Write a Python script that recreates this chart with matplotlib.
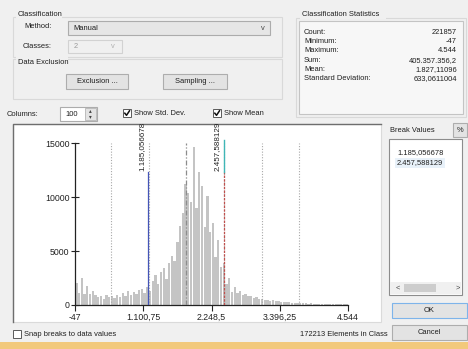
import numpy as np
import matplotlib
matplotlib.use("Agg")
import matplotlib.pyplot as plt
from matplotlib.patches import Rectangle

plt.rcParams['font.family'] = ['Liberation Sans', 'DejaVu Sans']

stat_labels = ["Count:", "Minimum:", "Maximum:", "Sum:", "Mean:", "Standard Deviation:"]
stat_values = ["221857", "-47", "4.544", "405.357.356,2", "1.827,11096", "633,0611004"]
data_min = -47
data_max = 4544
mean_val = 1827.11096
std_val = 633.0611004
breaks = [1185.056678, 2457.588129]
break_labels = ["1.185,056678", "2.457,588129"]
x_ticks = [-47, 1100.75, 2248.5, 3396.25, 4544]
x_tick_labels = ["-47", "1.100,75", "2.248,5", "3.396,25", "4.544"]
y_ticks = [0, 5000, 10000, 15000]
n_columns = 100
counts = [2000, 1100, 2500, 1000, 1800, 1000, 1300, 900, 700, 800,
          600, 900, 700, 800, 650, 900, 700, 1100, 800, 1300,
          900, 1200, 1000, 1400, 1500, 1100, 1700, 1300, 2200, 2800,
          1900, 3100, 3400, 2400, 3900, 4500, 4100, 5800, 7300, 8500,
          11200, 10400, 9500, 14600, 9000, 12300, 11000, 7200, 10100, 6800,
          7600, 4400, 6000, 3500, 3900, 1900, 2500, 1200, 1700, 1100,
          1300, 900, 1000, 800, 850, 650, 700, 550, 600, 450,
          500, 400, 420, 330, 350, 280, 300, 250, 260, 200,
          220, 180, 190, 150, 160, 130, 140, 110, 120, 100,
          100, 90, 90, 80, 80, 70, 70, 60, 60, 50]

W, H = 468, 349
fig = plt.figure(figsize=(W / 100, H / 100), dpi=100)
fig.patch.set_facecolor('#f0f0f0')

bg = fig.add_axes([0, 0, 1, 1])
bg.set_xlim(0, W)
bg.set_ylim(H, 0)
bg.axis('off')

fs = 5.4
txt = '#1e1e1e'


def box(x0, y0, x1, y1, fc='none', ec='#c8c8c8', lw=0.8, z=1):
    bg.add_patch(Rectangle((x0, y0), x1 - x0, y1 - y0, fc=fc, ec=ec, lw=lw, zorder=z))


def button(x0, y0, x1, y1, label, ec='#adadad'):
    box(x0, y0, x1, y1, fc='#e3e3e3', ec=ec)
    bg.text((x0 + x1) / 2, (y0 + y1) / 2, label, fontsize=fs, color=txt,
            ha='center', va='center', zorder=3)


def checkbox(x, y, checked):
    box(x, y, x + 8, y + 8, fc='white', ec='#5a5a5a', lw=0.7)
    if checked:
        bg.plot([x + 1.8, x + 3.5, x + 6.5], [y + 4.2, y + 6.3, y + 1.8],
                color='#111111', lw=1.1, zorder=3)


# Classification group
box(13, 17, 282, 57, ec='#d9d9d9')
bg.add_patch(Rectangle((16, 12), 46, 8, fc='#f0f0f0', ec='none', zorder=2))
bg.text(18, 15, "Classification", fontsize=fs, color=txt, va='center', zorder=3)
bg.text(24, 27, "Method:", fontsize=fs, color=txt, va='center')
box(68, 21, 270, 35, fc='#e6e6e6', ec='#acacac')
bg.text(73, 28, "Manual", fontsize=fs, color=txt, va='center')
bg.text(263, 28, "v", fontsize=fs, color='#444444', va='center', ha='center')
bg.text(23, 47, "Classes:", fontsize=fs, color=txt, va='center')
box(68, 40, 122, 53, fc='#f0f0f0', ec='#d2d2d2')
bg.text(74, 46.5, "2", fontsize=fs, color='#9a9a9a', va='center')
bg.text(113, 46.5, "v", fontsize=fs, color='#b0b0b0', va='center', ha='center')

# Data exclusion group
box(13, 59, 282, 99, ec='#d9d9d9')
bg.add_patch(Rectangle((16, 55), 52, 8, fc='#f0f0f0', ec='none', zorder=2))
bg.text(18, 63, "Data Exclusion", fontsize=fs, color=txt, va='center', zorder=3)
button(66, 74, 128, 89, "Exclusion ...")
button(163, 74, 227, 89, "Sampling ...")

# statistics group
box(296, 18, 466, 117, ec='#d9d9d9')
bg.add_patch(Rectangle((300, 11), 86, 8, fc='#f0f0f0', ec='none', zorder=2))
bg.text(302, 15, "Classification Statistics", fontsize=fs, color=txt, va='center', zorder=3)
box(299, 21, 463, 114, fc='#f7f7f7', ec='#c4c4c4')
for k in range(len(stat_labels)):
    yy = 32 + k * 9.4
    bg.text(304, yy, stat_labels[k], fontsize=fs, color=txt, va='center')
    bg.text(457, yy, stat_values[k], fontsize=fs, color=txt, va='center', ha='right')

# columns row
bg.text(7, 114, "Columns:", fontsize=fs, color=txt, va='center')
box(60, 107, 97, 121, fc='white', ec='#acacac')
bg.text(65, 114, str(n_columns), fontsize=fs, color=txt, va='center')
box(85, 108, 96, 120, fc='#e3e3e3', ec='#b5b5b5', lw=0.6)
bg.text(90.5, 111, "\u25b4", fontsize=4, color='#444444', ha='center', va='center')
bg.text(90.5, 117, "\u25be", fontsize=4, color='#444444', ha='center', va='center')
checkbox(123, 109, True)
bg.text(134, 113.5, "Show Std. Dev.", fontsize=fs, color=txt, va='center')
checkbox(213, 109, True)
bg.text(224, 113.5, "Show Mean", fontsize=fs, color=txt, va='center')

# histogram panel, sunken border: dark top/left, light bottom/right
box(13, 124, 381, 322, fc='white', ec='#dadada', lw=0.8)
bg.plot([13, 13, 381], [322, 124, 124], color='#6e6e6e', lw=1.0, zorder=2)

# break values list
bg.text(390, 131, "Break Values", fontsize=fs, color=txt, va='center')
button(453, 123, 467, 137, "%")
box(389, 139, 462, 295, fc='white', ec='#8c8c8c')
bg.add_patch(Rectangle((395, 158), 50, 10, fc='#e8f1f9', ec='none', zorder=2))
bg.text(397, 153, break_labels[0], fontsize=fs, color=txt, va='center', zorder=3)
bg.text(397, 163, break_labels[1], fontsize=fs, color=txt, va='center', zorder=3)
box(390, 282, 461, 294, fc='#f0f0f0', ec='none')
bg.add_patch(Rectangle((404, 284), 32, 8, fc='#cdcdcd', ec='none', zorder=2))
bg.text(398, 288, "<", fontsize=fs, color='#444444', ha='center', va='center', zorder=3)
bg.text(458, 288, ">", fontsize=fs, color='#444444', ha='center', va='center', zorder=3)

button(392, 303, 467, 318, "OK", ec='#7eb4ea')
button(392, 325, 467, 340, "Cancel")

# bottom row
checkbox(13, 330, False)
bg.text(24, 334.5, "Snap breaks to data values", fontsize=fs, color=txt, va='center')
bg.text(300, 334.5, "172213 Elements in Class", fontsize=fs, color=txt, va='center')
bg.add_patch(Rectangle((0, 342), W, 7, fc='#f2c97c', ec='none', zorder=2))

# histogram axes: x in data units, 15000 sits at pixel row 143
y_top = 15000 * (305 - 125) / (305 - 143)
ax = fig.add_axes([75 / W, 1 - 305 / H, 273 / W, 180 / H])
ax.patch.set_alpha(0)
ax.set_xlim(data_min, data_max)
ax.set_ylim(0, y_top)

edges = np.linspace(data_min, data_max, n_columns + 1)
bw = edges[1] - edges[0]
ax.bar(edges[:-1] + bw * 0.08, counts, width=bw * 0.84, align='edge',
       color='#c4c4c4', zorder=2)

# std dev lines
for k in (-3, -2, -1, 1, 2, 3):
    v = mean_val + k * std_val
    if data_min < v < data_max:
        ax.plot([v, v], [0, 15000], color='#a8a8a8', lw=0.8, ls=(0, (1, 1.5)), zorder=3)
ax.plot([mean_val, mean_val], [0, 15000], color='#8c8c8c', lw=0.9,
        ls=(0, (4, 1.5, 1, 1.5)), zorder=3)

# break lines
brk_top = 12300
ax.plot([breaks[0]] * 2, [0, brk_top], color='#4455b8', lw=0.9, zorder=4)
ax.plot([breaks[1]] * 2, [0, brk_top], color='#c0504d', lw=0.9, ls=(0, (2, 1)), zorder=4)
ax.plot([breaks[1]] * 2, [brk_top, 15300], color='#3fb6b6', lw=1.0, zorder=4)
for b, lab in zip(breaks, break_labels):
    ax.text(b - 55, brk_top + 150, lab, rotation=90, fontsize=5.8, color='#222222',
            ha='right', va='bottom', zorder=5)

for s in ('top', 'right'):
    ax.spines[s].set_visible(False)
ax.spines['left'].set_bounds(0, 15000)
ax.spines['left'].set_color('#222222')
ax.spines['bottom'].set_color('#222222')
ax.spines['left'].set_linewidth(0.9)
ax.spines['bottom'].set_linewidth(0.9)
ax.set_xticks(x_ticks)
ax.set_xticklabels(x_tick_labels)
ax.set_yticks(y_ticks)
ax.set_yticklabels([str(t) for t in y_ticks])
ax.tick_params(axis='y', direction='inout', length=6, width=0.8, labelsize=6.3,
               colors='#222222', pad=1)
ax.tick_params(axis='x', direction='out', length=4, width=0.8, labelsize=6.3,
               colors='#222222', pad=1.5)

fig.savefig("out.png", dpi=100, facecolor=fig.get_facecolor())
